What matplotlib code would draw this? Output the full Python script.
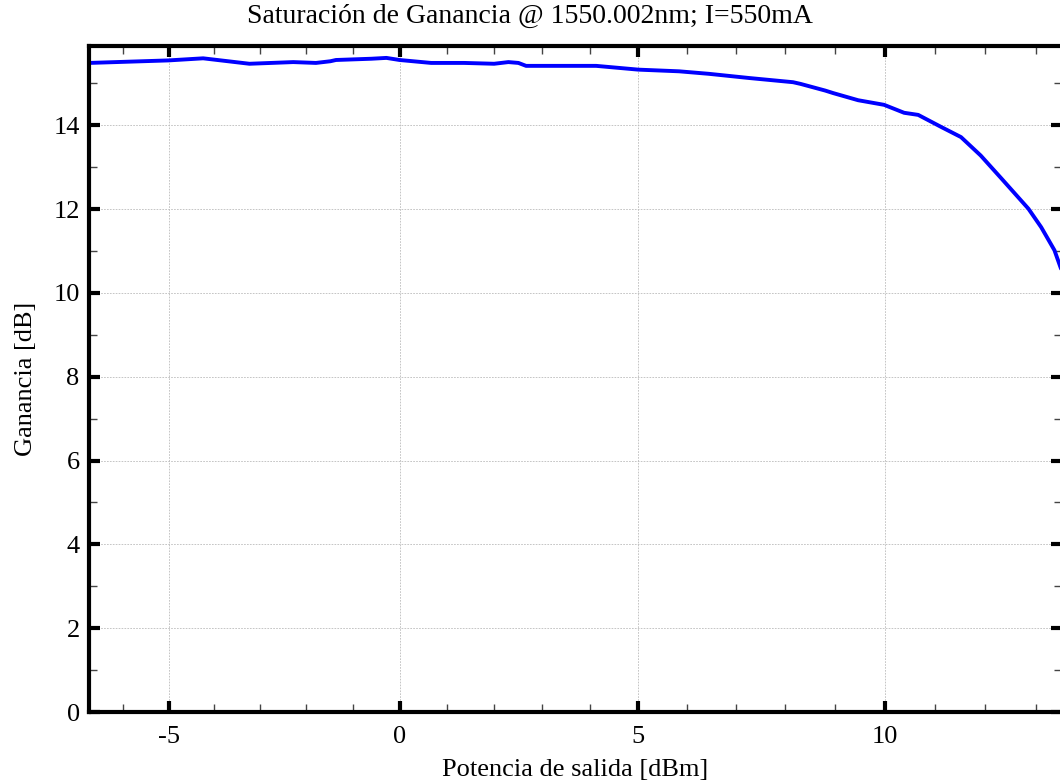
import numpy as np
import matplotlib
matplotlib.use("Agg")
import matplotlib.pyplot as plt
from matplotlib.ticker import MultipleLocator

# Output power [dBm] and gain [dB]
potencia = [-6.75, -5.0, -4.24, -3.23, -2.28, -1.79, -1.48, -1.36, -0.60, -0.28,
            0.0, 0.67, 1.37, 2.0, 2.3, 2.51, 2.67, 3.82, 4.13, 5.0,
            5.84, 6.45, 7.27, 8.16, 8.31, 8.81, 8.97, 9.47, 9.99, 10.39,
            10.67, 11.13, 11.52, 11.91, 12.32, 12.85, 13.10, 13.36, 13.50]
ganancia = [15.49, 15.55, 15.60, 15.47, 15.51, 15.49, 15.53, 15.56, 15.59, 15.61,
            15.56, 15.49, 15.49, 15.47, 15.51, 15.49, 15.42, 15.42, 15.42, 15.33,
            15.29, 15.23, 15.13, 15.03, 14.99, 14.83, 14.77, 14.60, 14.49, 14.30,
            14.25, 13.96, 13.72, 13.28, 12.73, 12.01, 11.57, 11.02, 10.54]

titulo = "Saturación de Ganancia @ 1550.002nm; I=550mA"
xlabel = "Potencia de salida [dBm]"
ylabel = "Ganancia [dB]"

plt.rcParams['font.family'] = ['Liberation Serif', 'DejaVu Serif']
plt.rcParams['axes.unicode_minus'] = False

# the reference x axis is slightly stretched towards the right
K = 0.00326
def fwd(x):
    x = np.asarray(x, dtype=float)
    return x + K * x ** 2
def inv(f):
    f = np.asarray(f, dtype=float)
    return (-1 + np.sqrt(np.clip(1 + 4 * K * f, 1e-9, None))) / (2 * K)

fig = plt.figure(figsize=(10.6, 7.82), dpi=100)
ax = fig.add_axes([0.0844, 0.0895, 0.9171, 0.852])
ax.set_xscale('function', functions=(fwd, inv))

ax.plot(potencia, ganancia, color='#0000ff', lw=2.8, solid_capstyle='round',
        solid_joinstyle='round')

ax.set_xlim(-6.75, 13.5)
ax.set_ylim(0, 15.9)
ax.xaxis.set_major_locator(MultipleLocator(5))
ax.xaxis.set_minor_locator(MultipleLocator(1))
ax.yaxis.set_major_locator(MultipleLocator(2))
ax.yaxis.set_minor_locator(MultipleLocator(1))

ax.grid(True, which='major', color='#bbbbbb', lw=0.6, ls=(0, (2, 1.5)))
for s in ax.spines.values():
    s.set_linewidth(3)
ax.tick_params(which='major', direction='in', length=8, width=3,
               top=True, right=True, labelsize=19, pad=7)
ax.tick_params(axis='x', which='major', pad=10)
ax.tick_params(which='minor', direction='in', length=6, width=1,
               top=True, right=True, color='#444444')

ax.set_xlabel(xlabel, fontsize=19, labelpad=8)
ax.set_ylabel(ylabel, fontsize=19, labelpad=12)
fig.suptitle(titulo, fontsize=20, y=0.995)

fig.savefig("out.png", dpi=100)
